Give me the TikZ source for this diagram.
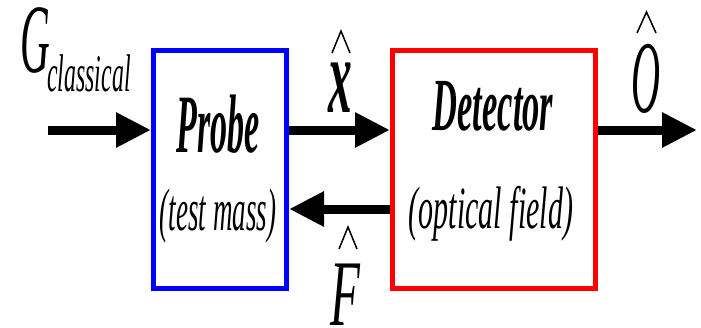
\documentclass[tikz,border=0pt]{standalone}
\usepackage{fontspec}
\setmainfont{Liberation Serif}
\usetikzlibrary{arrows.meta}
\newcommand\sqtext[3]{\scalebox{#1}[1]{\fontsize{#2}{#2}\selectfont #3}}
\tikzset{
  box/.style={draw, line width=5pt, minimum width=#1, inner sep=0pt, fill=white},
  flow/.style={line width=9pt, -{Triangle[length=35pt, width=33pt]}},
  lab/.style={anchor=base, inner sep=0pt},
  hat/.style={line width=1.5pt, line join=miter}
}
\begin{document}
\begin{tikzpicture}[x=1pt, y=-1pt]
\useasboundingbox (0,0) rectangle (701,327);
% boxes
\node[box=133pt, draw=blue, minimum height=238pt] (probe) at (220,169.5) {};
\node[box=203pt, draw=red, minimum height=238pt] (det) at (494,169.5) {};
% coordinates for connectors
\coordinate (yup) at (0,130);
\coordinate (ydn) at (0,209);
\coordinate (in) at (48,130);
\coordinate (out) at (697,130);
% connectors
\draw[flow] (in) -- (probe.west |- yup);
\draw[flow] (probe.east |- yup) -- (det.west |- yup);
\draw[flow] (det.east |- yup) -- (out);
\draw[flow] (det.west |- ydn) -- (probe.east |- ydn);
% labels
\node[lab, anchor=base west] (G) at (20,72) {\sqtext{0.42}{98}{\itshape G}};
\node[lab, anchor=base west] (Gsub) at (47,91) {\sqtext{0.45}{53}{\itshape classical}};
\node[lab] (probet) at (218,152) {\sqtext{0.41}{83}{\bfseries\itshape Probe}};
\node[lab] (probes) at (218,230) {\sqtext{0.45}{60}{\itshape (test mass)}};
\node[lab] (dett) at (493,130) {\sqtext{0.46}{75}{\bfseries\itshape Detector}};
\node[lab] (dets) at (491,228) {\sqtext{0.5}{60}{\itshape (optical field)}};
\node[lab] (xl) at (340,112) {\sqtext{0.44}{108}{\bfseries\itshape x}};
\node[lab] (ol) at (646,112) {\sqtext{0.39}{103}{\itshape O}};
\node[lab] (fl) at (345,325) {\sqtext{0.52}{94}{\itshape F}};
% hats
\draw[hat] (332,53) -- (341,31) -- (350,53);
\draw[hat] (637,33) -- (646.5,12) -- (656,33);
\draw[hat] (339,249) -- (348,227) -- (357,249);
\end{tikzpicture}
\end{document}
